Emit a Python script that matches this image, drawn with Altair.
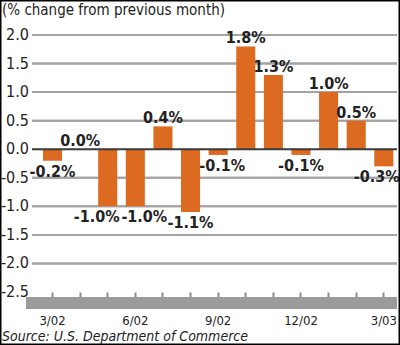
import altair as alt
import pandas as pd

months = ["3/02", "4/02", "5/02", "6/02", "7/02", "8/02", "9/02",
          "10/02", "11/02", "12/02", "1/03", "2/03", "3/03"]
changes = [-0.2, 0.0, -1.0, -1.0, 0.4, -1.1, -0.1, 1.8, 1.3, -0.1, 1.0, 0.5, -0.3]
shown_months = ["3/02", "6/02", "9/02", "12/02", "3/03"]
y_ticks = [2.0, 1.5, 1.0, 0.5, 0.0, -0.5, -1.0, -1.5, -2.0, -2.5]
grid_values = [2.0, 1.5, 1.0, 0.5, -0.5, -1.0, -1.5, -2.0]
title_text = "(% change from previous month)"
source_text = "Source:  U.S. Department of Commerce"

FONT = "DejaVu Sans Condensed, Liberation Sans Narrow, sans-serif"
ORANGE = "#DC6A20"
GRID = "#a3a3a3"
W, H = 365, 257
PAD = {"left": 32, "top": 35, "right": 3, "bottom": 53}

df = pd.DataFrame({"month": months, "change": changes})
df["label"] = ["%.1f%%" % v for v in changes]
tick_df = pd.DataFrame({"v": y_ticks})
tick_df["txt"] = ["%.1f" % v for v in y_ticks]
grid_df = pd.DataFrame({"g": grid_values})

y_scale = alt.Scale(domain=[-2.5, 2.0], nice=False, zero=False)

x_axis = alt.Axis(labelExpr="indexof(" + str(shown_months) + ", datum.value) >= 0 ? datum.value : ''",
                  labelAngle=0, domain=False, ticks=True, tickSize=5,
                  tickColor="#8a8a8a", tickWidth=2, labelPadding=17,
                  labelBaseline="top", labelFont=FONT, labelFontSize=13,
                  labelColor="#222222", grid=False, labelOverlap=False)
x_scale = alt.Scale(paddingInner=0.31, paddingOuter=0.265, align=0.75)

base = alt.Chart(df)
ticks_base = alt.Chart(tick_df)

# gridlines as thin filled strips (about 2 px thick)
grid_strips = alt.Chart(grid_df).transform_calculate(
    top="datum.g + 0.017", bot="datum.g - 0.017"
).mark_rect(color=GRID).encode(
    y=alt.Y("top:Q", scale=y_scale, axis=None),
    y2="bot:Q",
    x=alt.value(0), x2=alt.value(W),
)

grid_rules = alt.Chart(grid_df).mark_rule(stroke=GRID, strokeWidth=2).encode(
    y=alt.Y("g:Q", scale=y_scale, axis=None),
    x=alt.value(0), x2=alt.value(W),
)

zero = ticks_base.transform_filter("datum.v == 0").mark_rule(
    stroke="#3a3a3a", strokeWidth=2
).encode(y=alt.Y("v:Q", scale=y_scale, axis=None),
         x=alt.value(0), x2=alt.value(W))

ylabels = ticks_base.mark_text(
    font=FONT, fontSize=16, color="#222222", align="right", baseline="middle", dx=-3
).encode(x=alt.value(0), y=alt.Y("v:Q", scale=y_scale, axis=None), text="txt:N")

bars = base.mark_bar(color=ORANGE).encode(
    x=alt.X("month:N", sort=months, title=None, scale=x_scale, axis=x_axis),
    y=alt.Y("change:Q", scale=y_scale, axis=None),
    y2=alt.datum(0),
)

label_style = dict(font=FONT, fontSize=16, fontWeight="bold", color="#222222")
pos_labels = base.transform_filter("datum.change >= 0").mark_text(
    baseline="alphabetic", dy=-3, **label_style
).encode(x=alt.X("month:N", sort=months), y=alt.Y("change:Q", axis=None), text="label:N")

def neg_layer(filter_expr, dx):
    return base.transform_filter(filter_expr).mark_text(
        baseline="top", dy=3, dx=dx, **label_style
    ).encode(x=alt.X("month:N", sort=months), y=alt.Y("change:Q", axis=None), text="label:N")

neg_labels = [
    neg_layer("datum.change < 0 && datum.month != '5/02' && datum.month != '6/02' && datum.month != '9/02' && datum.month != '3/03'", 0),
    neg_layer("datum.month == '5/02'", -11),
    neg_layer("datum.month == '6/02'", 9),
    neg_layer("datum.month == '9/02'", 4),
    neg_layer("datum.month == '3/03'", -7),
]

one = alt.Data(values=[{"k": 1}])
band = alt.Chart(one).mark_rect(color="#9b9b9b").encode(
    x=alt.value(-6), x2=alt.value(W), y=alt.value(H + 5), y2=alt.value(H + 17))
border = alt.Chart(one).mark_rect(fill="transparent", stroke="#000000", strokeWidth=1.5).encode(
    x=alt.value(-PAD["left"] + 0.75), x2=alt.value(W + PAD["right"] - 0.75),
    y=alt.value(-PAD["top"] + 0.75), y2=alt.value(H + PAD["bottom"] - 0.75))
title = alt.Chart(one).mark_text(text=title_text, font=FONT, fontSize=15, align="left",
                                 baseline="alphabetic", color="#222222").encode(
    x=alt.value(-PAD["left"] + 2), y=alt.value(-PAD["top"] + 15))
source = alt.Chart(one).mark_text(text=source_text, font=FONT, fontSize=14, fontStyle="italic",
                                  align="left", baseline="alphabetic", color="#222222").encode(
    x=alt.value(-PAD["left"] + 2), y=alt.value(H + 49))

chart = alt.layer(band, grid_strips, grid_rules, bars, zero, ylabels, pos_labels, *neg_labels,
                  title, source, border).properties(
    width=W, height=H, padding=PAD, autosize=alt.AutoSizeParams(type="none"),
    background="white",
).configure_view(stroke=None)

chart.save("out.html", embed_options={"renderer": "svg", "actions": False})
